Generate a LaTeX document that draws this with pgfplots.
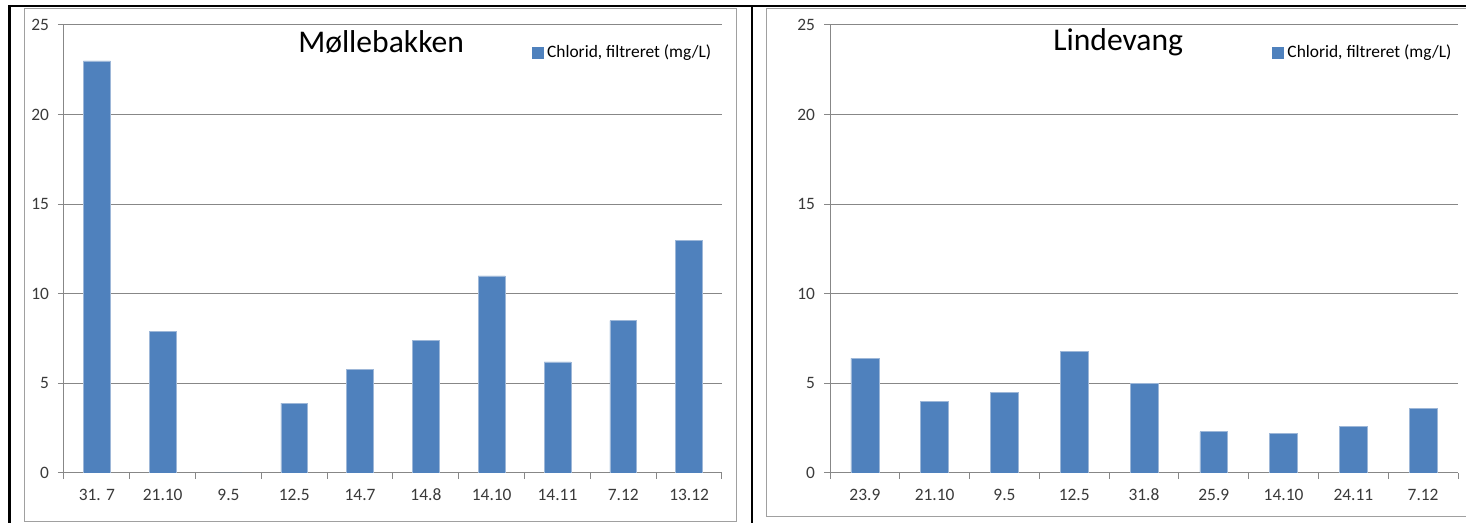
\documentclass[border=0pt]{standalone}
\usepackage{pgfplots}
\pgfplotsset{compat=1.18}
\usepackage{fontspec}
\setmainfont{Carlito}

\definecolor{barblue}{HTML}{4F81BD}
\definecolor{baredge}{HTML}{9DB7D8}
\definecolor{gridgray}{HTML}{878787}
\definecolor{framegray}{HTML}{A0A0A0}
\definecolor{ticktext}{HTML}{3A3A3A}

\pgfplotstableread{
idx value
0 23.0
1 7.9
2 0.0
3 3.9
4 5.8
5 7.4
6 11.0
7 6.2
8 8.5
9 13.0
}\moellebakken

\pgfplotstableread{
idx value
0 6.4
1 4.0
2 4.5
3 6.8
4 5.0
5 2.3
6 2.2
7 2.6
8 3.6
}\lindevang

\pgfplotsset{
  chloridpanel/.style={
    scale only axis,
    height=224pt,
    ymin=0, ymax=25,
    ytick={0,5,...,25},
    axis x line*=bottom,
    axis y line*=left,
    axis line style={gridgray, line width=0.5pt, -},
    ymajorgrids,
    grid style={gridgray, line width=0.5pt},
    tick align=outside,
    major tick length=3pt,
    minor tick length=3pt,
    tick style={gridgray, line width=0.5pt},
    major x tick style={draw=none},
    /pgf/number format/assume math mode=true,
    ticklabel style={font=\fontsize{8.7}{10}\selectfont, text=ticktext},
    yticklabel style={xshift=-1pt},
    xticklabel style={yshift=-1.5pt},
    title style={anchor=base, yshift=-6pt, font=\fontsize{15.8}{19}\selectfont},
    legend style={anchor=west, draw=none, fill=none, inner sep=0pt,
      font=\fontsize{8.7}{10}\selectfont, text=black},
    legend cell align=left,
    legend image code/.code={%
      \fill[barblue] (0pt,-2.75pt) rectangle (5.5pt,2.75pt);},
    bar width=0.41,
  },
}

\begin{document}
\begin{tikzpicture}
\path[use as bounding box, fill=white] (0pt,0pt) rectangle (733pt,261.5pt);

% Møllebakken
\begin{axis}[chloridpanel,
  at={(32pt,25pt)}, anchor=south west,
  width=329pt,
  xmin=-0.5, xmax=9.5,
  xtick={0,...,9},
  xticklabels={31. 7,21.10,9.5,12.5,14.7,14.8,14.10,14.11,7.12,13.12},
  minor xtick={-0.5,0.5,...,9.5},
  title={Møllebakken},
  title style={at={(0.482,0.938)}},
  legend style={at={(0.71,0.9375)}},
]
\addplot[ybar, fill=barblue, draw=baredge, line width=0.3pt]
  table[x=idx, y=value] {\moellebakken};
\addlegendentry{Chlorid, filtreret (mg/L)}
\end{axis}

% Lindevang
\begin{axis}[chloridpanel,
  at={(415pt,25pt)}, anchor=south west,
  width=314pt,
  xmin=-0.5, xmax=8.5,
  xtick={0,...,8},
  xticklabels={23.9,21.10,9.5,12.5,31.8,25.9,14.10,24.11,7.12},
  minor xtick={-0.5,0.5,...,8.5},
  bar width=0.4,
  title={Lindevang},
  title style={at={(0.459,0.942)}},
  legend style={at={(0.703,0.9375)}},
]
\addplot[ybar, fill=barblue, draw=baredge, line width=0.3pt]
  table[x=idx, y=value] {\lindevang};
\addlegendentry{Chlorid, filtreret (mg/L)}
\end{axis}

% panel frames
\draw[framegray, line width=0.6pt] (12.15pt,0.75pt) rectangle (368.35pt,257.35pt);
\draw[framegray, line width=0.6pt] (740pt,257.35pt) -- (383.35pt,257.35pt)
  -- (383.35pt,3.25pt) -- (740pt,3.25pt);

% black separators
\draw[black, line width=1pt] (4pt,258.25pt) -- (733pt,258.25pt);
\draw[black, line width=1.5pt] (4.75pt,-1pt) -- (4.75pt,258.75pt);
\draw[black, line width=1.2pt] (376pt,-1pt) -- (376pt,258.75pt);
\end{tikzpicture}
\end{document}
